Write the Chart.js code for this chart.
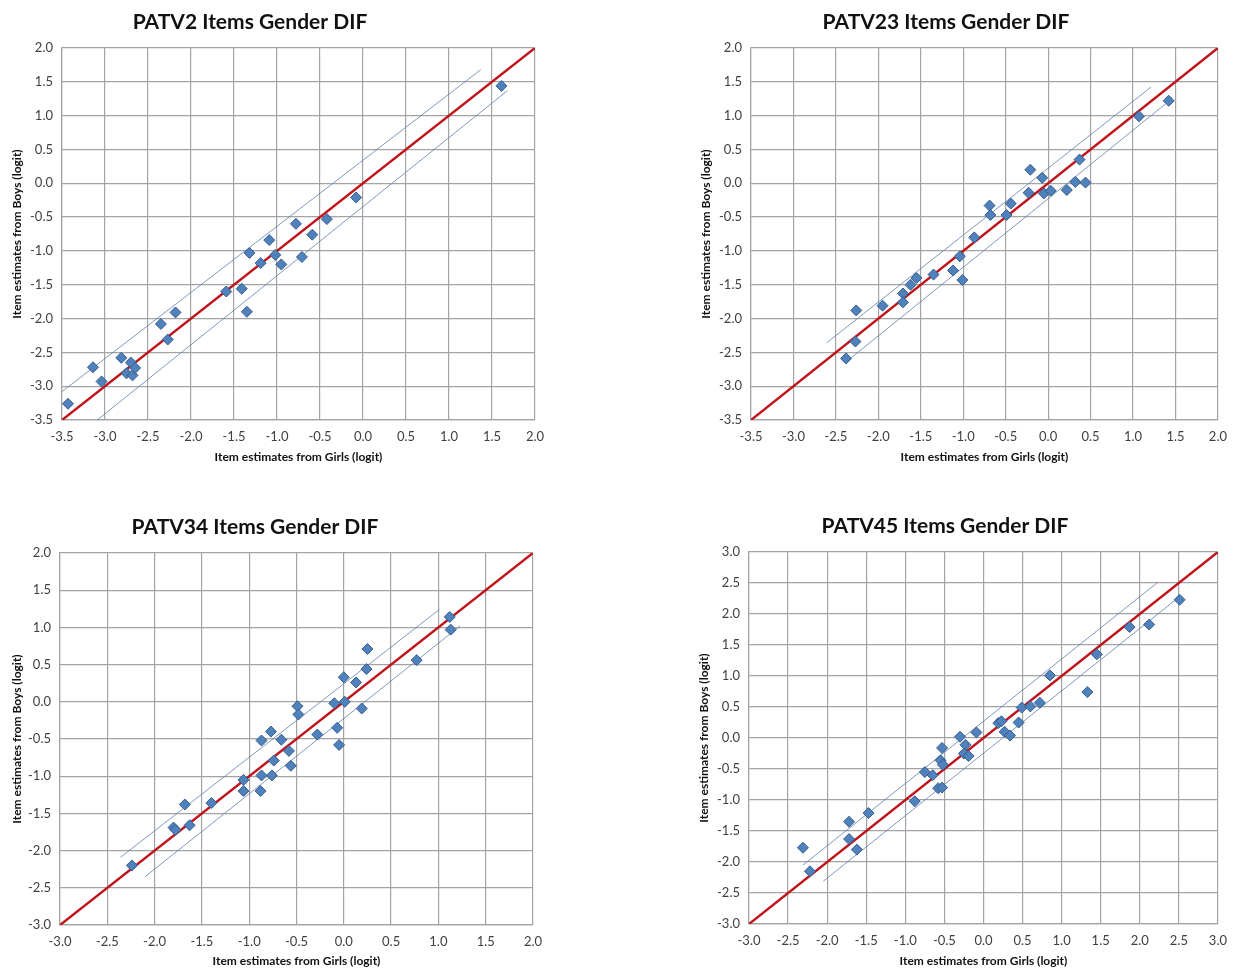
<!DOCTYPE html>
<html>
<head>
<meta charset="utf-8">
<script src="https://cdn.jsdelivr.net/npm/chart.js@4"></script>
<style>
  body { margin: 0; background: #fff; }
  #page { position: relative; width: 1236px; height: 969px; overflow: hidden; }
  canvas { position: absolute; }
</style>
</head>
<body>
<div id="page">
  <canvas id="c1" width="560" height="465" style="left:0px;top:0px"></canvas>
  <canvas id="c2" width="547" height="465" style="left:689px;top:0px"></canvas>
  <canvas id="c3" width="560" height="464" style="left:0px;top:505px"></canvas>
  <canvas id="c4" width="549" height="465" style="left:687px;top:504px"></canvas>
</div>
<script>
// axis ticks (same on both axes of each panel)
const ticksPatv2 = [-3.5, -3.0, -2.5, -2.0, -1.5, -1.0, -0.5, 0.0, 0.5, 1.0, 1.5, 2.0];
const ticksPatv34 = [-3.0, -2.5, -2.0, -1.5, -1.0, -0.5, 0.0, 0.5, 1.0, 1.5, 2.0];
const ticksPatv45 = [-3.0, -2.5, -2.0, -1.5, -1.0, -0.5, 0.0, 0.5, 1.0, 1.5, 2.0, 2.5, 3.0];

// PATV2
const patv2Girls = [-3.43, -3.14, -3.04, -2.81, -2.75, -2.70, -2.68, -2.65, -2.35, -2.27, -2.18, -1.59, -1.41, -1.35, -1.32, -1.19, -1.09, -1.02, -0.95, -0.78, -0.71, -0.59, -0.42, -0.08, 1.61];
const patv2Boys = [-3.26, -2.72, -2.93, -2.58, -2.81, -2.65, -2.84, -2.73, -2.08, -2.31, -1.91, -1.60, -1.56, -1.90, -1.03, -1.18, -0.84, -1.06, -1.20, -0.60, -1.09, -0.76, -0.53, -0.21, 1.44];
const patv2UpperX = [-3.5, 1.37], patv2UpperY = [-3.08, 1.68];
const patv2LowerX = [-3.09, 1.68], patv2LowerY = [-3.5, 1.37];

// PATV23
const patv23Girls = [-2.38, -2.27, -2.26, -1.95, -1.71, -1.71, -1.62, -1.55, -1.35, -1.12, -1.04, -1.01, -0.87, -0.69, -0.68, -0.49, -0.44, -0.23, -0.21, -0.07, -0.05, 0.03, 0.22, 0.32, 0.37, 0.44, 1.07, 1.42];
const patv23Boys = [-2.59, -2.34, -1.88, -1.81, -1.63, -1.76, -1.50, -1.40, -1.35, -1.29, -1.08, -1.43, -0.80, -0.33, -0.47, -0.47, -0.30, -0.14, 0.20, 0.08, -0.15, -0.11, -0.10, 0.02, 0.35, 0.01, 0.99, 1.22];
const patv23UpperX = [-2.61, 1.21], patv23UpperY = [-2.36, 1.42];
const patv23LowerX = [-2.32, 1.38], patv23LowerY = [-2.58, 1.17];

// PATV34
const patv34Girls = [-2.24, -1.80, -1.78, -1.68, -1.63, -1.40, -1.06, -1.06, -0.88, -0.87, -0.87, -0.77, -0.76, -0.74, -0.66, -0.58, -0.56, -0.49, -0.48, -0.28, -0.10, -0.07, -0.05, 0.00, 0.01, 0.13, 0.19, 0.24, 0.25, 0.77, 1.12, 1.13];
const patv34Boys = [-2.20, -1.69, -1.72, -1.38, -1.66, -1.36, -1.05, -1.20, -1.20, -0.52, -0.99, -0.40, -0.99, -0.79, -0.51, -0.66, -0.86, -0.06, -0.17, -0.44, -0.02, -0.35, -0.58, 0.33, 0.00, 0.26, -0.09, 0.44, 0.71, 0.56, 1.14, 0.97];
const patv34UpperX = [-2.36, 1.01], patv34UpperY = [-2.09, 1.24];
const patv34LowerX = [-2.10, 1.23], patv34LowerY = [-2.35, 1.02];

// PATV45
const patv45Girls = [-2.31, -2.22, -1.72, -1.72, -1.62, -1.47, -0.88, -0.75, -0.65, -0.58, -0.53, -0.53, -0.55, -0.52, -0.30, -0.23, -0.25, -0.19, -0.09, 0.19, 0.23, 0.27, 0.34, 0.45, 0.49, 0.60, 0.72, 0.85, 1.33, 1.45, 1.87, 2.12, 2.51];
const patv45Boys = [-1.77, -2.15, -1.35, -1.63, -1.80, -1.21, -1.02, -0.55, -0.60, -0.81, -0.80, -0.16, -0.36, -0.43, 0.02, -0.11, -0.25, -0.29, 0.09, 0.24, 0.27, 0.10, 0.04, 0.25, 0.49, 0.51, 0.57, 1.01, 0.74, 1.35, 1.79, 1.83, 2.23];
const patv45UpperX = [-2.31, 2.23], patv45UpperY = [-2.05, 2.51];
const patv45LowerX = [-2.05, 2.50], patv45LowerY = [-2.31, 2.27];

const toPoints = (xs, ys) => xs.map((x, i) => ({ x: x, y: ys[i] }));

const gridColor = '#a3a3a3';
const tickFont = { family: 'Lato', size: 13 };
const axisTitleFont = { family: 'Lato', size: 12, weight: 'bold' };

// draws the panel heading at a fixed spot (excel centres it on the whole chart box)
const panelTitle = {
  id: 'panelTitle',
  afterDraw(chart, args, opts) {
    const ctx = chart.ctx;
    ctx.save();
    ctx.font = 'bold 21px Lato';
    ctx.fillStyle = '#111';
    ctx.textAlign = 'center';
    ctx.textBaseline = 'middle';
    ctx.fillText(opts.text, opts.x, opts.y);
    ctx.restore();
  }
};

function makeAxis(ticks, title, isX, size) {
  return {
    type: 'linear',
    min: ticks[0],
    max: ticks[ticks.length - 1],
    afterBuildTicks: s => { s.ticks = ticks.map(v => ({ value: v })); },
    afterFit: s => { if (isX) s.height = size; else s.width = size; },
    grid: { color: gridColor, lineWidth: 1.2, drawTicks: false },
    border: { color: gridColor, width: 1.2 },
    ticks: {
      padding: isX ? 9 : 9,
      color: '#3f3f3f',
      font: tickFont,
      callback: v => v.toFixed(1)
    },
    title: {
      display: true,
      text: title,
      color: '#111',
      font: axisTitleFont,
      padding: isX ? { top: 2, bottom: 1 } : { top: 10, bottom: 2 }
    }
  };
}

function makePanel(id, p) {
  const lo = p.ticks[0], hi = p.ticks[p.ticks.length - 1];
  new Chart(document.getElementById(id), {
    type: 'scatter',
    data: {
      datasets: [
        {
          label: 'Items',
          data: toPoints(p.girls, p.boys),
          pointStyle: 'rectRot',
          pointRadius: 5.5,
          backgroundColor: '#4f81bd',
          borderColor: '#385d8a',
          borderWidth: 1,
          order: 0
        },
        {
          label: 'Identity',
          data: toPoints([lo, hi], [lo, hi]),
          showLine: true,
          pointRadius: 0,
          borderColor: '#c0141c',
          borderWidth: 2.5,
          order: 1
        },
        {
          label: 'Upper',
          data: toPoints(p.upperX, p.upperY),
          showLine: true,
          pointRadius: 0,
          borderColor: '#5f7fa8',
          borderWidth: 0.8,
          order: 2
        },
        {
          label: 'Lower',
          data: toPoints(p.lowerX, p.lowerY),
          showLine: true,
          pointRadius: 0,
          borderColor: '#5f7fa8',
          borderWidth: 0.8,
          order: 2
        }
      ]
    },
    options: {
      responsive: false,
      animation: false,
      layout: { padding: { top: 48, right: p.padRight, left: 0, bottom: 0 } },
      scales: {
        x: makeAxis(p.ticks, 'Item estimates from Girls (logit)', true, p.xHeight),
        y: makeAxis(p.ticks, 'Item estimates from Boys (logit)', false, p.yWidth)
      },
      plugins: {
        legend: { display: false },
        tooltip: { enabled: false },
        panelTitle: { text: p.title, x: p.titleX, y: 22 }
      }
    },
    plugins: [panelTitle]
  });
}

makePanel('c1', {
  title: 'PATV2 Items Gender DIF', titleX: 250, ticks: ticksPatv2,
  girls: patv2Girls, boys: patv2Boys,
  upperX: patv2UpperX, upperY: patv2UpperY, lowerX: patv2LowerX, lowerY: patv2LowerY,
  padRight: 25, yWidth: 62, xHeight: 45
});
makePanel('c2', {
  title: 'PATV23 Items Gender DIF', titleX: 257, ticks: ticksPatv2,
  girls: patv23Girls, boys: patv23Boys,
  upperX: patv23UpperX, upperY: patv23UpperY, lowerX: patv23LowerX, lowerY: patv23LowerY,
  padRight: 11, yWidth: 62, xHeight: 45
});
makePanel('c3', {
  title: 'PATV34 Items Gender DIF', titleX: 255, ticks: ticksPatv34,
  girls: patv34Girls, boys: patv34Boys,
  upperX: patv34UpperX, upperY: patv34UpperY, lowerX: patv34LowerX, lowerY: patv34LowerY,
  padRight: 27, yWidth: 60, xHeight: 44
});
makePanel('c4', {
  title: 'PATV45 Items Gender DIF', titleX: 258, ticks: ticksPatv45,
  girls: patv45Girls, boys: patv45Boys,
  upperX: patv45UpperX, upperY: patv45UpperY, lowerX: patv45LowerX, lowerY: patv45LowerY,
  padRight: 13, yWidth: 62, xHeight: 45
});
</script>
</body>
</html>
